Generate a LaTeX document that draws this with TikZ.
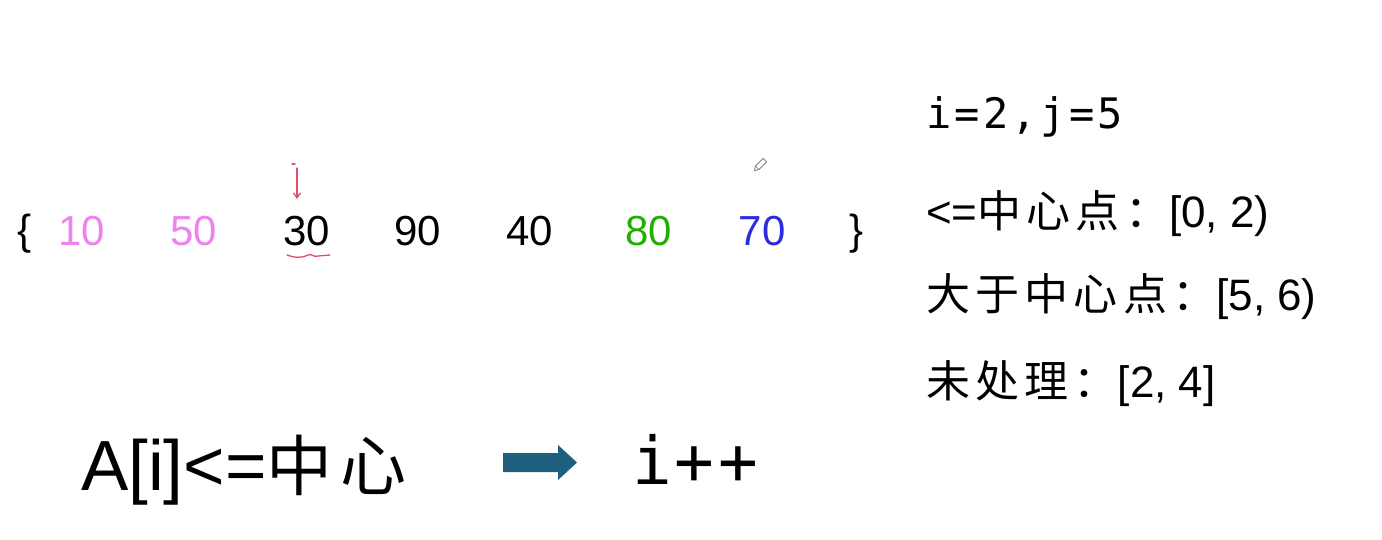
\documentclass[tikz,border=0pt]{standalone}
\usepackage{fontspec}
\setmainfont{Liberation Sans}
\newfontfamily\cjk[LetterSpace=12]{Noto Sans CJK SC}
\newfontfamily\cjkbig[LetterSpace=12]{Noto Sans CJK SC}
\newfontfamily\monoA[LetterSpace=8]{DejaVu Sans Mono}
\newfontfamily\monoB[LetterSpace=5]{DejaVu Sans Mono}
\usetikzlibrary{arrows.meta}
\definecolor{vio}{HTML}{EE82EE}
\definecolor{grn}{HTML}{22B000}
\definecolor{blu}{HTML}{2B2BE0}
\definecolor{teal}{HTML}{1E5F7D}
\definecolor{pen}{HTML}{E0506A}
\begin{document}
\begin{tikzpicture}[x=1pt,y=-1pt,
  every node/.style={inner sep=0pt,outer sep=0pt},
  num/.style={anchor=base,font=\fontsize{42}{48}\selectfont},
  brace/.style={anchor=base,font=\fontsize{42}{48}\selectfont},
  info/.style={anchor=base west,font=\fontsize{44}{50}\selectfont},
  ink/.style={draw=pen,line width=1.3pt,line cap=round}]
\useasboundingbox[fill=white] (0,0) rectangle (1382,540);
% array
\node[brace] (lb) at (25,245) {\{};
\node[num,text=vio] (a0) at (82,246) {10};
\node[num,text=vio] (a1) at (194,246) {50};
\node[num] (a2) at (307,246) {30};
\node[num] (a3) at (418,246) {90};
\node[num] (a4) at (530,246) {40};
\node[num,text=grn] (a5) at (649,246) {80};
\node[num,text=blu] (a6) at (762,246) {70};
\node[brace] (rb) at (857,245) {\}};
% pen marks
\coordinate (pt) at (297,168);
\coordinate (pe) at (297,199);
\draw[ink] (292,164) -- (295,164);
\draw[ink,-{Straight Barb[length=5pt,width=7pt]}] (pt) -- (pe);
\draw[ink] (287,255) .. controls (295,258) and (303,258) .. (308,255) .. controls (312,253) and (314,258) .. (318,256) -- (330,255);
% pencil cursor
\begin{scope}[shift={(760,165)},rotate=-45]
\draw[gray,line width=0.8pt] (-2.5,-7) rectangle (2.5,4) (-2.5,4) -- (0,8) -- (2.5,4);
\end{scope}
% right info
\node[anchor=base west,font=\monoA\fontsize{42}{48}\selectfont] (ij) at (926,129) {i=2,j=5};
\node[info] (l1) at (926,228) {<={\cjk 中心点：}[0, 2)};
\node[info] (l2) at (926,310) {{\cjk 大于中心点：}[5, 6)};
\node[info] (l3) at (926,397) {{\cjk 未处理：}[2, 4]};
% bottom
\node[anchor=base west,font=\fontsize{71}{80}\selectfont] (cond) at (81,490) {A[i]<={\cjkbig\fontsize{66}{72}\selectfont 中心}};
\node[anchor=base west,font=\monoB\fontsize{66}{72}\selectfont] (inc) at (632,484) {i++};
\coordinate (as) at (503,462.5);
\coordinate (ae) at (577,462.5);
\fill[teal] (as) ++(0,-9.5) -- ++(55,0) -- ++(0,-8) -- (ae) -- ++(-19,17.5) -- ++(0,-8) -- ++(-55,0) -- cycle;
\end{tikzpicture}
\end{document}
